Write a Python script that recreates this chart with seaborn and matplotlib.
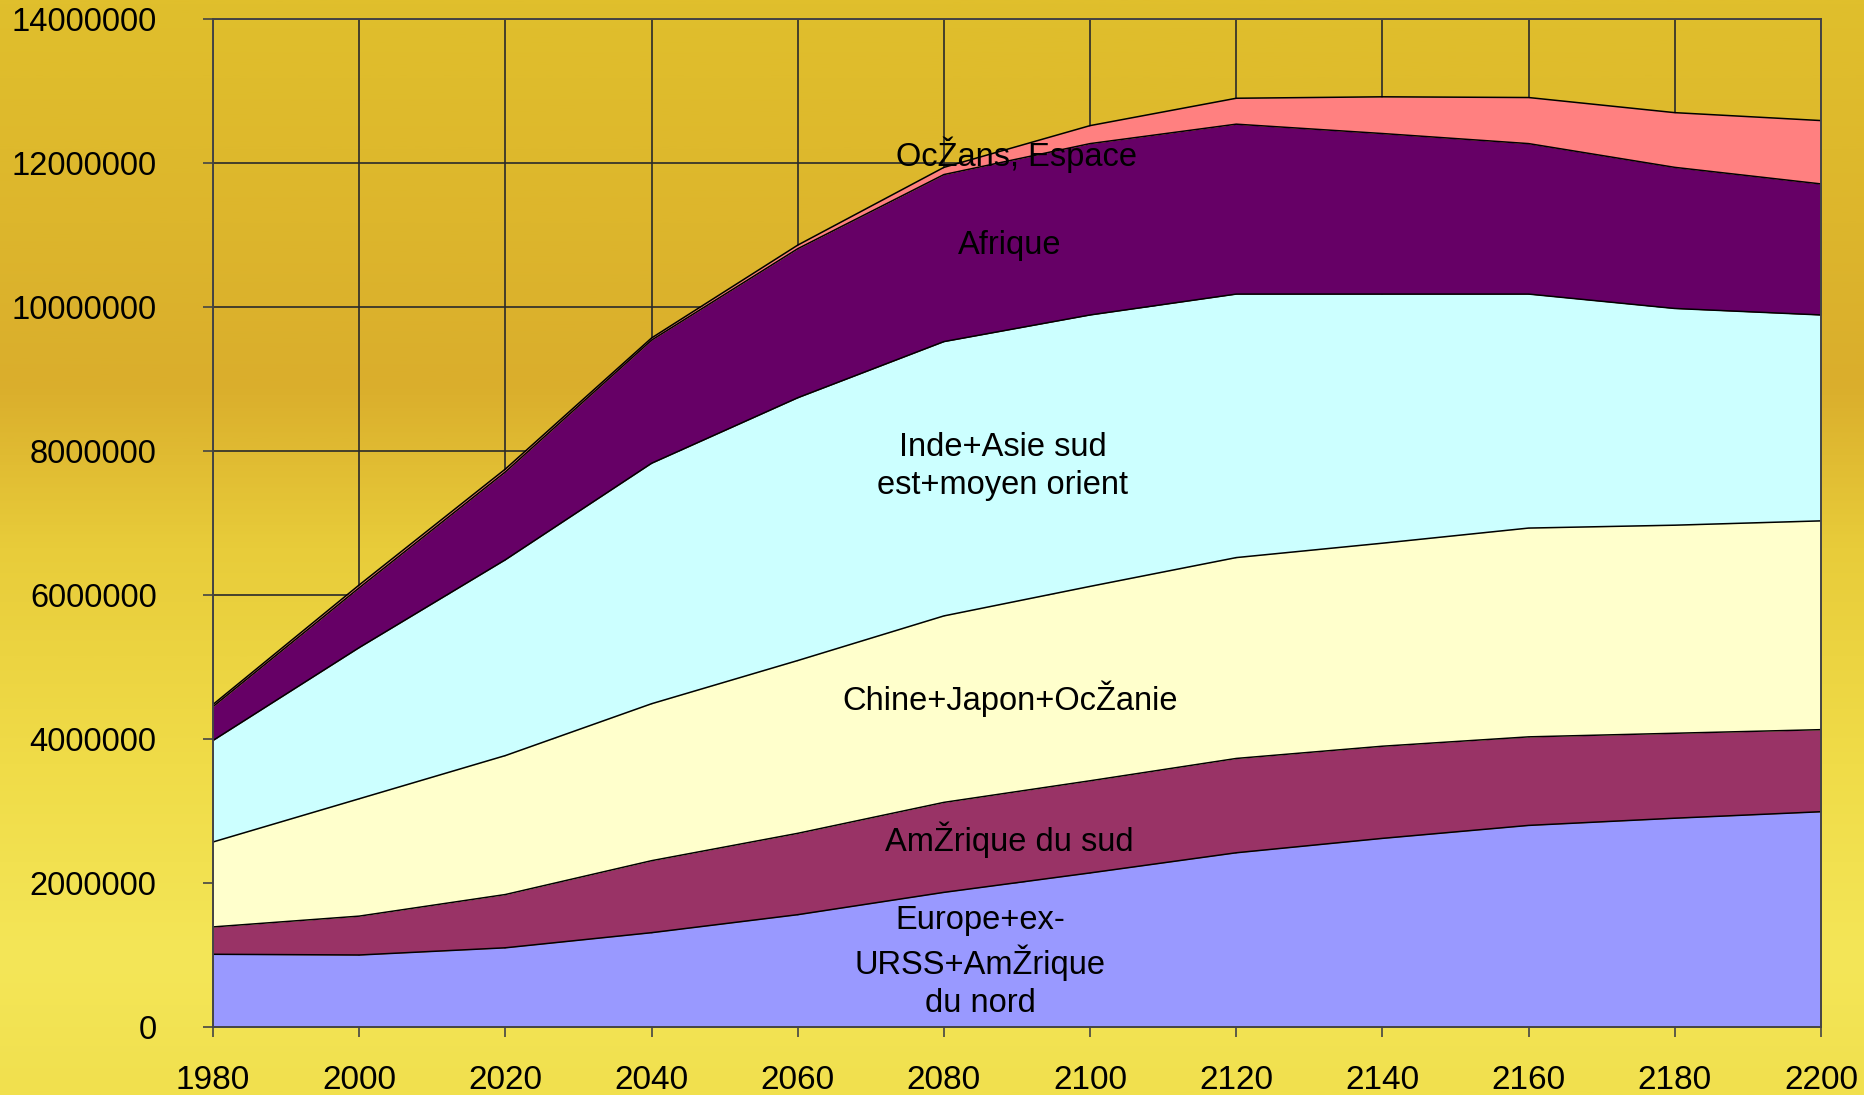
import numpy as np
import pandas as pd
import matplotlib
matplotlib.use("Agg")
import matplotlib.pyplot as plt
from matplotlib.colors import LinearSegmentedColormap
from matplotlib.ticker import FuncFormatter
import seaborn as sns

# values (in units, stacked bottom to top)
years = [1980, 2000, 2020, 2040, 2060, 2080, 2100, 2120, 2140, 2160, 2180, 2200]
europe = [1010000, 1000000, 1100000, 1310000, 1560000, 1870000, 2140000, 2420000, 2620000, 2800000, 2900000, 2990000]
amerique_sud = [380000, 540000, 740000, 1000000, 1130000, 1250000, 1280000, 1310000, 1280000, 1230000, 1180000, 1140000]
chine = [1180000, 1630000, 1930000, 2180000, 2400000, 2590000, 2700000, 2790000, 2820000, 2900000, 2890000, 2900000]
inde = [1410000, 2100000, 2720000, 3340000, 3650000, 3810000, 3770000, 3660000, 3460000, 3250000, 3010000, 2860000]
afrique = [470000, 830000, 1220000, 1710000, 2070000, 2320000, 2380000, 2360000, 2230000, 2090000, 1960000, 1820000]
oceans = [30000, 40000, 40000, 30000, 50000, 100000, 250000, 360000, 510000, 640000, 760000, 880000]

series_names = ["Europe+ex-\nURSS+AmŽrique\ndu nord", "AmŽrique du sud", "Chine+Japon+OcŽanie",
                "Inde+Asie sud\nest+moyen orient", "Afrique", "OcŽans, Espace"]
series_colors = ["#9999FF", "#993366", "#FFFFCC", "#CCFFFF", "#660066", "#FF8080"]
label_pos = [(2085, 900000), (2089, 2600000), (2089, 4560000), (2088, 7780000), (2089, 10850000), (2090, 12120000)]

sns.set_style("ticks")
plt.rcParams["font.family"] = ["Liberation Sans", "DejaVu Sans"]

fig = plt.figure(figsize=(18.64, 10.95), dpi=100)

# background: golden gradient, darker at the top, paler lower down
bg = fig.add_axes([0, 0, 1, 1], zorder=0)
bg_cmap = LinearSegmentedColormap.from_list(
    "bg", [(0.0, "#E0BF2C"), (0.2, "#DDB62C"), (0.35, "#DAAE2C"),
           (0.5, "#E8CC3A"), (0.7, "#F0DC48"), (0.88, "#F4E658"), (1.0, "#F1E04E")])
ramp = np.linspace(0, 1, 400).reshape(-1, 1)
bg.imshow(ramp, cmap=bg_cmap, aspect="auto", extent=[0, 1, 0, 1], origin="upper")
bg.set_axis_off()

ax = fig.add_axes([0.11427, 0.0621, 0.86266, 0.9205], zorder=1)
ax.patch.set_alpha(0)

layers = [europe, amerique_sud, chine, inde, afrique, oceans]
ax.stackplot(years, *layers, colors=series_colors, linewidth=0, zorder=2)

# boundary lines between layers
cum = np.cumsum(np.array(layers), axis=0)
long_df = pd.DataFrame({
    "year": np.tile(years, len(layers)),
    "value": cum.ravel(),
    "layer": np.repeat(range(len(layers)), len(years)),
})
sns.lineplot(data=long_df, x="year", y="value", units="layer", estimator=None,
             color="black", linewidth=1.1, ax=ax, zorder=3, legend=False)

for name, (lx, ly) in zip(series_names, label_pos):
    ax.text(lx, ly, name, ha="center", va="center", fontsize=23.5, color="black",
            linespacing=1.3, zorder=4)

ax.set_xlim(1980, 2200)
ax.set_ylim(0, 14000000)
ax.set_xticks(years)
ax.set_yticks(range(0, 14000001, 2000000))
ax.yaxis.set_major_formatter(FuncFormatter(lambda v, _: f"{int(v)}"))
ax.set_xlabel("")
ax.set_ylabel("")

ax.set_axisbelow(True)
ax.grid(True, color="#2a2a2a", linewidth=1.2)
for side in ["left", "right", "top", "bottom"]:
    ax.spines[side].set_color("#444444")
    ax.spines[side].set_linewidth(1.4)
    ax.spines[side].set_zorder(5)

ax.tick_params(axis="y", direction="out", length=7.5, width=1.2, color="#444444",
               pad=33, labelsize=23.5, labelcolor="black")
ax.tick_params(axis="x", direction="out", length=7.5, width=1.2, color="#444444",
               pad=20, labelsize=24, labelcolor="black")

fig.savefig("out.png", dpi=100)
